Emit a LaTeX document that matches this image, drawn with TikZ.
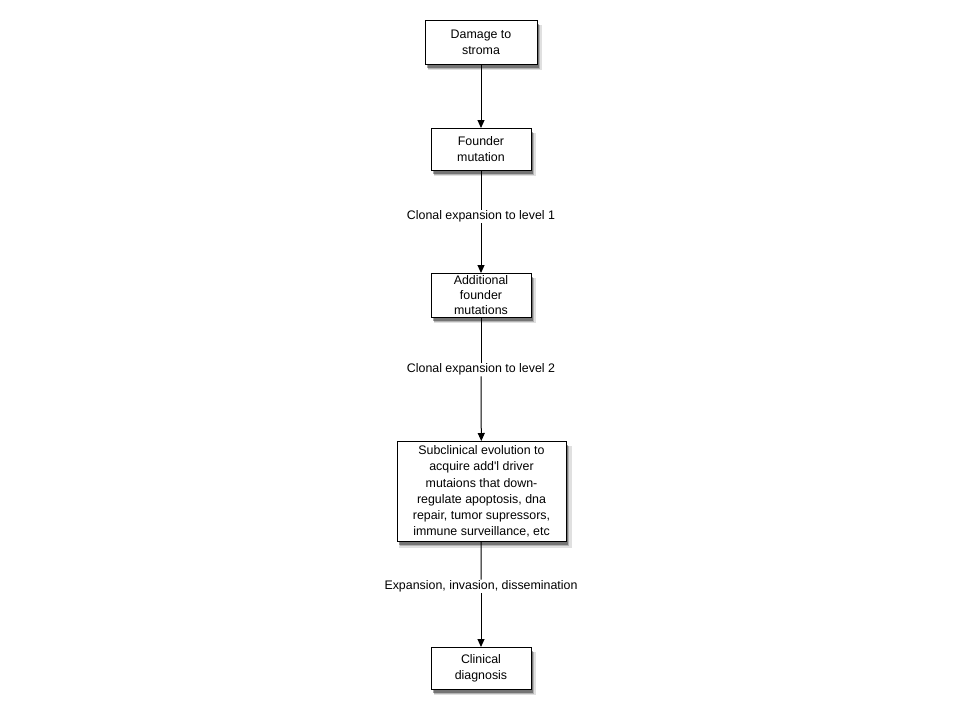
\documentclass[tikz,border=0pt]{standalone}
\usepackage{fontspec}
\setmainfont{Liberation Sans}
\usetikzlibrary{arrows.meta,shadows}
\begin{document}
\begin{tikzpicture}[x=1pt,y=-1pt,
  box/.style={draw=black,line width=1pt,fill=white,align=center,inner sep=0pt,
    font=\fontsize{12.4}{16}\selectfont,
    drop shadow={shadow xshift=4pt,shadow yshift=-5pt,fill=black,opacity=0.12,shadow scale=1.02},
    drop shadow={shadow xshift=3pt,shadow yshift=-4pt,fill=black,opacity=0.2},
    drop shadow={shadow xshift=2pt,shadow yshift=-3pt,fill=black,opacity=0.35}},
  lbl/.style={font=\fontsize{12.4}{16}\selectfont,inner sep=1pt},
  arr/.style={line width=1pt,-{Triangle[width=7pt,length=8pt]}},
  ln/.style={line width=1pt}]
\useasboundingbox (0,0) rectangle (960,720);
\node[box,minimum width=112pt,minimum height=44pt] (b1) at (481,42.5) {Damage to\\stroma};
\node[box,minimum width=100pt,minimum height=42pt] (b2) at (481,149.5) {Founder\\mutation};
\node[lbl] (l1) at (481,216.5) {Clonal expansion to level 1};
\node[box,minimum width=100pt,minimum height=44pt,font=\fontsize{12.4}{15}\selectfont] (b3) at (481,295.5) {Additional\\founder\\mutations};
\node[lbl] (l2) at (481,369.5) {Clonal expansion to level 2};
\node[box,minimum width=169pt,minimum height=100pt,font=\fontsize{12.4}{16.3}\selectfont] (b4) at (481.5,491.5) {Subclinical evolution to\\acquire add\textquotesingle l driver\\mutaions that down-\\regulate apoptosis, dna\\repair, tumor supressors,\\immune surveillance, etc};
\node[lbl] (l3) at (481,586.5) {Expansion, invasion, dissemination};
\node[box,minimum width=100pt,minimum height=42pt] (b5) at (481,668.5) {Clinical\\diagnosis};
\draw[arr] (b1) -- (b2);
\draw[ln] (b2) -- (l1);
\draw[arr] (l1) -- (b3);
\draw[ln] (b3) -- (l2);
\draw[arr] (l2) -- (b4);
\draw[ln] (b4) -- (l3);
\draw[arr] (l3) -- (b5);
\end{tikzpicture}
\end{document}
